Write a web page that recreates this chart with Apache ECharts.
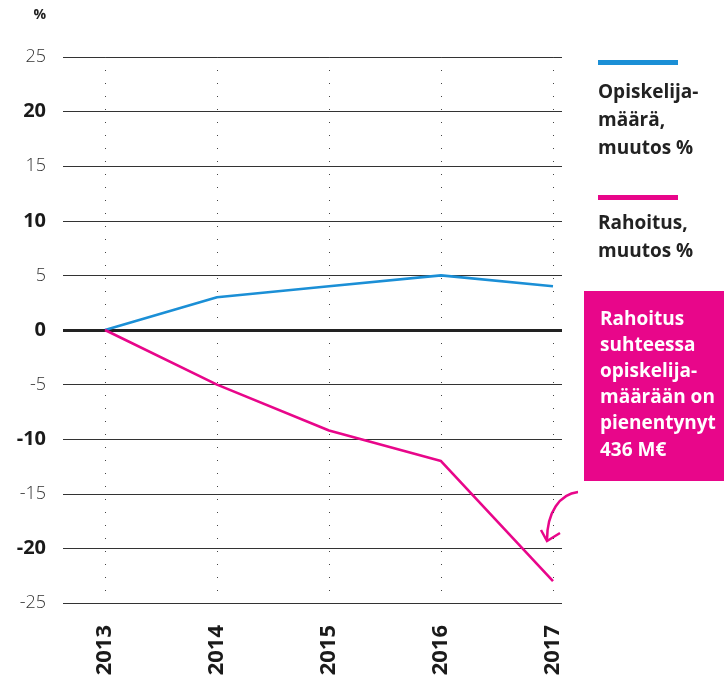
<!DOCTYPE html>
<html>
<head>
<meta charset="utf-8">
<script src="https://cdn.jsdelivr.net/npm/echarts@6/dist/echarts.min.js"></script>
<style>
html,body{margin:0;padding:0;background:#fff;}
#c{width:724px;height:680px;}
</style>
</head>
<body>
<div id="c"></div>
<script>
const years = ['2013', '2014', '2015', '2016', '2017'];
const opiskelijamaara = [0, 3, 4, 5, 4];
const rahoitus = [0, -5, -9.2, -12, -23];
const yMin = -25, yMax = 25, yStep = 5;

const BLUE = '#1b8fd6';
const PINK = '#e8068a';
const FONT = '"Open Sans", Lato, sans-serif';

const chart = echarts.init(document.getElementById('c'));
chart.setOption({
  animation: false,
  backgroundColor: '#fff',
  textStyle: { fontFamily: FONT },
  grid: [
    { left: 63, right: 162, top: 57, bottom: 77 },
    { left: 105, right: 171, top: 57, bottom: 77 }
  ],
  xAxis: [
    { gridIndex: 0, type: 'value', min: 0, max: 1, show: false },
    {
      gridIndex: 1, type: 'category', data: years, boundaryGap: false,
      axisLine: { show: false },
      axisTick: { show: false },
      splitLine: { show: true, lineStyle: { color: '#444', width: 1, type: [1, 12] } },
      axisLabel: {
        rotate: 90, margin: 22, fontSize: 22, fontWeight: 'bold', color: '#1a1a1a',
        fontFamily: FONT
      }
    }
  ],
  yAxis: [
    {
      gridIndex: 0, type: 'value', min: yMin, max: yMax, interval: yStep,
      name: '%', nameLocation: 'end', nameGap: 35,
      nameTextStyle: { fontSize: 14, fontWeight: 'bold', color: '#222', align: 'right', padding: [0, 17, 0, 0], fontFamily: FONT },
      axisLine: { show: false }, axisTick: { show: false },
      splitLine: { show: true, lineStyle: { color: '#333', width: 1 } },
      axisLabel: {
        margin: 17,
        formatter: v => (v % 10 === 0 ? '{b|' + v + '}' : '{n|' + v + '}'),
        rich: {
          b: { fontSize: 20, fontWeight: 'bold', color: '#1a1a1a', fontFamily: FONT },
          n: { fontSize: 18, fontWeight: 300, color: '#333', fontFamily: FONT }
        }
      }
    },
    {
      gridIndex: 1, type: 'value', min: yMin, max: yMax, interval: yStep, show: false,
      splitLine: { show: false }
    }
  ],
  series: [
    {
      type: 'line', xAxisIndex: 0, yAxisIndex: 0, data: [], silent: true,
      markLine: {
        silent: true, symbol: 'none', label: { show: false },
        lineStyle: { color: '#222', width: 3, type: 'solid' },
        data: [{ yAxis: 0 }]
      }
    },
    {
      name: 'Opiskelijamäärä, muutos %', type: 'line', xAxisIndex: 1, yAxisIndex: 1,
      data: opiskelijamaara, symbol: 'none', lineStyle: { color: BLUE, width: 2.6 }, z: 5
    },
    {
      name: 'Rahoitus, muutos %', type: 'line', xAxisIndex: 1, yAxisIndex: 1,
      data: rahoitus, symbol: 'none', lineStyle: { color: PINK, width: 2.6 }, z: 5
    }
  ],
  graphic: [
    { type: 'rect', shape: { x: 598, y: 60, width: 80, height: 5 }, style: { fill: BLUE } },
    { type: 'text', x: 598, y: 79, style: { text: 'Opiskelija-\nmäärä,\nmuutos %', font: 'bold 19px ' + FONT, fill: '#222', lineHeight: 28 } },
    { type: 'rect', shape: { x: 598, y: 195, width: 80, height: 5 }, style: { fill: PINK } },
    { type: 'text', x: 598, y: 210, style: { text: 'Rahoitus,\nmuutos %', font: 'bold 19px ' + FONT, fill: '#222', lineHeight: 28 } },
    { type: 'rect', shape: { x: 584, y: 291, width: 140, height: 190 }, style: { fill: PINK } },
    { type: 'text', x: 600, y: 306, style: { text: 'Rahoitus\nsuhteessa\nopiskelija-\nmäärään on\npienentynyt\n436 M€', font: 'bold 19px ' + FONT, fill: '#fff', lineHeight: 26.2 } },
    { type: 'bezierCurve', shape: { x1: 578, y1: 492, cpx1: 560, cpy1: 494, cpx2: 547, cpy2: 512, x2: 547, y2: 540 }, style: { stroke: PINK, lineWidth: 2.5, fill: null } },
    { type: 'polyline', shape: { points: [[541, 530], [547, 541], [560, 533]] }, style: { stroke: PINK, lineWidth: 2.5, fill: null } }
  ]
});
</script>
</body>
</html>
